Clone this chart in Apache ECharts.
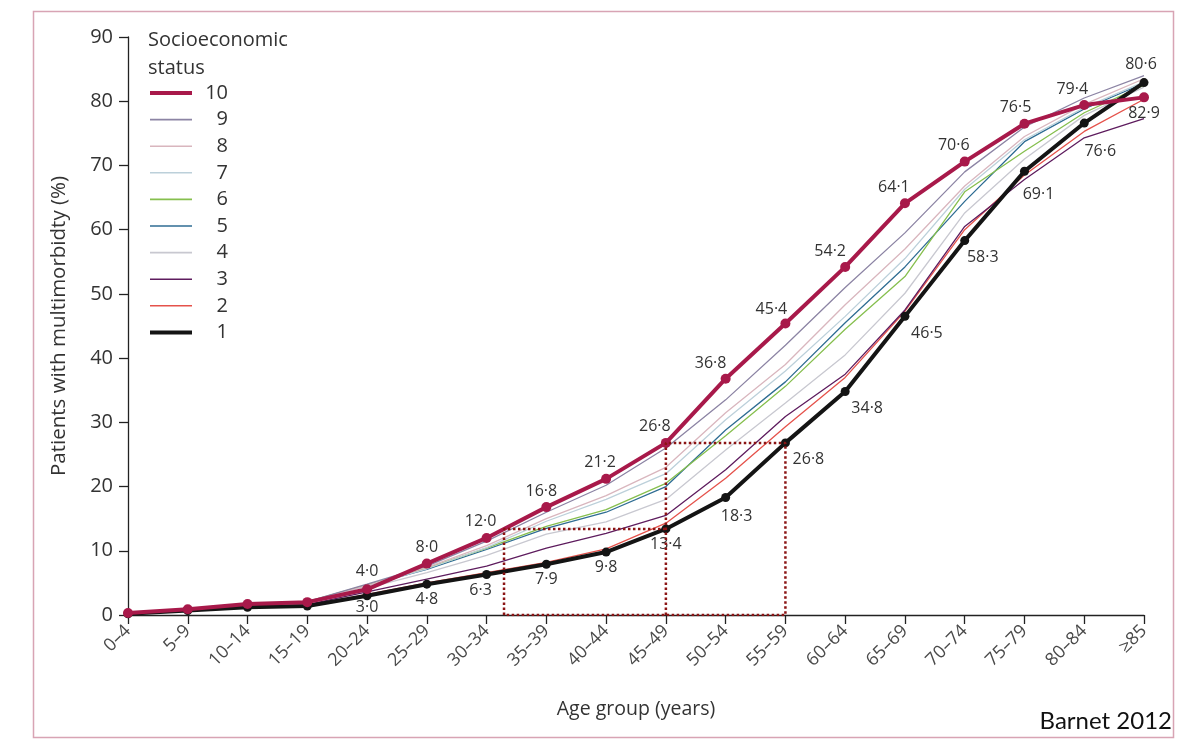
<!DOCTYPE html>
<html>
<head>
<meta charset="utf-8">
<script src="https://cdn.jsdelivr.net/npm/echarts@6/dist/echarts.min.js"></script>
<style>
  html, body { margin: 0; padding: 0; background: #ffffff; }
  #chart { width: 1184px; height: 739px; }
</style>
</head>
<body>
<div id="chart"></div>
<script>
// Age groups along the horizontal axis
const ageGroups = ['0–4', '5–9', '10–14', '15–19', '20–24', '25–29', '30–34', '35–39', '40–44',
  '45–49', '50–54', '55–59', '60–64', '65–69', '70–74', '75–79', '80–84', '≥85'];

// Share of patients with multimorbidity (%) by socioeconomic status decile (10 = most deprived)
const ses10 = [0.3, 0.9, 1.7, 2.0, 4.0, 8.0, 12.0, 16.8, 21.2, 26.8, 36.8, 45.4, 54.2, 64.1, 70.6, 76.5, 79.4, 80.6];
const ses9  = [0.3, 0.9, 1.6, 2.1, 4.8, 7.6, 11.5, 16.0, 20.2, 26.0, 33.5, 42.0, 51.0, 59.5, 69.0, 76.0, 80.5, 84.0];
const ses8  = [0.3, 0.9, 1.6, 2.0, 4.6, 7.4, 10.8, 15.0, 18.6, 23.0, 31.5, 39.0, 48.3, 57.0, 66.8, 74.5, 79.5, 83.5];
const ses7  = [0.3, 0.9, 1.5, 2.0, 4.5, 7.2, 10.5, 14.6, 18.0, 22.0, 30.4, 38.0, 46.5, 55.5, 66.3, 74.0, 79.0, 83.0];
const ses6  = [0.3, 0.9, 1.6, 2.1, 4.7, 7.3, 10.4, 13.8, 16.4, 20.5, 27.9, 35.6, 44.5, 52.7, 65.9, 72.2, 78.2, 82.5];
const ses5  = [0.3, 0.9, 1.5, 2.0, 4.6, 7.1, 10.2, 13.5, 16.0, 20.0, 28.8, 36.3, 45.5, 54.2, 64.4, 73.7, 78.8, 82.8];
const ses4  = [0.3, 0.8, 1.4, 1.8, 4.2, 6.6, 9.3, 12.6, 14.5, 18.0, 25.7, 33.0, 40.5, 50.1, 62.6, 71.0, 77.8, 82.2];
const ses3  = [0.2, 0.8, 1.3, 1.6, 3.6, 5.6, 7.6, 10.4, 12.7, 15.5, 22.6, 30.9, 37.5, 47.5, 60.5, 67.8, 74.3, 77.3];
const ses2  = [0.2, 0.7, 1.2, 1.5, 3.2, 5.0, 6.6, 8.2, 10.3, 14.3, 21.3, 29.3, 37.0, 47.3, 60.0, 68.5, 75.3, 80.3];
const ses1  = [0.2, 0.7, 1.2, 1.4, 3.0, 4.8, 6.3, 7.9, 9.8, 13.4, 18.3, 26.8, 34.8, 46.5, 58.3, 69.1, 76.6, 82.9];

// Y axis ticks
const yTicks = { min: 0, max: 90, step: 10 };

const FONT = '"Open Sans", "Noto Sans", sans-serif';
const TEXT = '#333333';

// Label nudges (px) for the annotated lines, so they sit clear of the other lines
const topNudge = [null, null, null, null, [0, -2], [0, 0], [-6, 0], [-5, 0], [-6, 0], [-11, 0],
  [-15, 1], [-14, 2], [-15, 1], [-11, 0], [-11, 0], [-9, 0], [-12, 0], [-3, -17]];
const bottomNudge = [null, null, null, null, [0, -4], [0, 0], [-6, 0], [0, 0], [0, 0], [0, 0],
  [11, 3], [23, 1], [22, 1], [22, 2], [18, 1], [14, 8], [16, 13], [0, 15]];

const fmt = v => v.toFixed(1).replace('.', '\u00B7');

const groups = [
  { name: '10', values: ses10, color: '#A8194A', width: 4,   labelPos: 'top',    nudge: topNudge },
  { name: '9',  values: ses9,  color: '#8C84A4', width: 1.3 },
  { name: '8',  values: ses8,  color: '#D9B6BE', width: 1.3 },
  { name: '7',  values: ses7,  color: '#BCD0DA', width: 1.3 },
  { name: '6',  values: ses6,  color: '#86BF4E', width: 1.3 },
  { name: '5',  values: ses5,  color: '#2F6D93', width: 1.3 },
  { name: '4',  values: ses4,  color: '#C8C8D0', width: 1.3 },
  { name: '3',  values: ses3,  color: '#5E1C5E', width: 1.3 },
  { name: '2',  values: ses2,  color: '#E5524B', width: 1.3 },
  { name: '1',  values: ses1,  color: '#141414', width: 4,   labelPos: 'bottom', nudge: bottomNudge }
];

function buildSeries(g, z) {
  const marked = !!g.labelPos;
  return {
    name: g.name,
    type: 'line',
    z: z,
    silent: true,
    animation: false,
    symbol: marked ? 'circle' : 'none',
    symbolSize: g.name === '10' ? 10 : 9,
    showSymbol: marked,
    itemStyle: { color: g.color, borderWidth: 0 },
    lineStyle: { color: g.color, width: g.width },
    data: g.values.map((v, i) => {
      const item = { value: [i, v] };
      if (marked) {
        const n = g.nudge[i];
        item.label = n ? { show: true, offset: n } : { show: false };
      }
      return item;
    }),
    label: marked ? {
      show: true,
      position: g.labelPos,
      distance: 3,
      fontFamily: FONT,
      fontSize: 16,
      color: TEXT,
      formatter: p => fmt(p.value[1])
    } : { show: false }
  };
}

// Where a line first reaches a given level (fractional age-group position)
function reachAt(vals, level) {
  for (let i = 0; i < vals.length - 1; i++) {
    if (vals[i] <= level && vals[i + 1] >= level) {
      return i + (level - vals[i]) / (vals[i + 1] - vals[i]);
    }
  }
  return 0;
}

const iA = ageGroups.indexOf('45–49');
const iB = ageGroups.indexOf('55–59');
const lowLevel = ses1[iA];
const highLevel = ses10[iA];
const lowStart = reachAt(ses10, lowLevel);

const boxStyle = { color: '#8B1414', width: 2.5, type: [2.5, 2.5] };
const boxSeries = [
  {
    name: 'box-a', type: 'line', z: 20, silent: true, animation: false, symbol: 'none',
    lineStyle: boxStyle,
    data: [[lowStart, 0], [lowStart, lowLevel], [iA, lowLevel]]
  },
  {
    name: 'box-b', type: 'line', z: 20, silent: true, animation: false, symbol: 'none',
    lineStyle: boxStyle,
    data: [[iA, 0], [iA, highLevel], [iB, highLevel], [iB, 0], [lowStart, 0]]
  }
];

const thin = groups.filter(g => !g.labelPos).slice().reverse();
const series = []
  .concat(thin.map(g => buildSeries(g, 2)))
  .concat([buildSeries(groups[9], 5), buildSeries(groups[0], 6)])
  .concat(boxSeries);

const chart = echarts.init(document.getElementById('chart'), null, { renderer: 'canvas' });

chart.setOption({
  backgroundColor: '#ffffff',
  animation: false,
  textStyle: { fontFamily: FONT },
  title: {
    text: 'Socioeconomic\nstatus',
    left: 148,
    top: 26,
    padding: 0,
    textStyle: { fontFamily: FONT, fontSize: 20, fontWeight: 'normal', color: TEXT, lineHeight: 28 }
  },
  legend: {
    orient: 'vertical',
    left: 148,
    top: 83,
    padding: 0,
    itemWidth: 42,
    itemHeight: 14,
    itemGap: 6.6,
    selectedMode: false,
    itemStyle: { color: 'rgba(0,0,0,0)', borderColor: 'rgba(0,0,0,0)', borderWidth: 0 },
    data: groups.map(g => ({ name: g.name, lineStyle: { width: g.width === 4 ? 4 : 1.6 } })),
    formatter: n => '{n|' + n + '}',
    textStyle: {
      fontFamily: FONT, fontSize: 20, color: TEXT, lineHeight: 14,
      rich: { n: { width: 31, height: 14, align: 'right', fontFamily: FONT, fontSize: 20, color: TEXT, lineHeight: 14 } }
    }
  },
  grid: { left: 128, right: 40, top: 37, bottom: 124, containLabel: false },
  xAxis: {
    type: 'value',
    min: 0,
    max: ageGroups.length - 1,
    interval: 1,
    name: 'Age group (years)',
    nameLocation: 'middle',
    nameGap: 84,
    nameTextStyle: { fontFamily: FONT, fontSize: 19.5, color: TEXT },
    axisLine: { show: true, lineStyle: { color: '#222', width: 1.3 } },
    axisTick: { show: true, length: 9, lineStyle: { color: '#222', width: 1.3 } },
    splitLine: { show: false },
    axisLabel: {
      rotate: 45,
      margin: 13,
      fontFamily: FONT,
      fontSize: 18,
      color: '#4a4a4a',
      formatter: v => ageGroups[Math.round(v)] || ''
    }
  },
  yAxis: {
    type: 'value',
    min: yTicks.min,
    max: yTicks.max,
    interval: yTicks.step,
    name: 'Patients with multimorbidty (%)',
    nameLocation: 'middle',
    nameGap: 58,
    nameTextStyle: { fontFamily: FONT, fontSize: 20.5, color: TEXT },
    axisLine: { show: true, lineStyle: { color: '#222', width: 1.3 } },
    axisTick: { show: true, length: 9, lineStyle: { color: '#222', width: 1.3 } },
    splitLine: { show: false },
    axisLabel: { margin: 15, fontFamily: FONT, fontSize: 20, color: TEXT }
  },
  graphic: [
    {
      type: 'rect',
      left: 31, top: 9,
      shape: { width: 1140, height: 726 },
      style: { fill: 'none', stroke: '#D8A4B4', lineWidth: 1.5 },
      silent: true, z: -1
    },
    {
      type: 'text',
      right: 12, bottom: 6,
      style: { text: 'Barnet 2012', fontFamily: 'Lato, "Open Sans", sans-serif', fontSize: 24, fill: '#111' },
      silent: true
    }
  ],
  series: series
});
</script>
</body>
</html>
